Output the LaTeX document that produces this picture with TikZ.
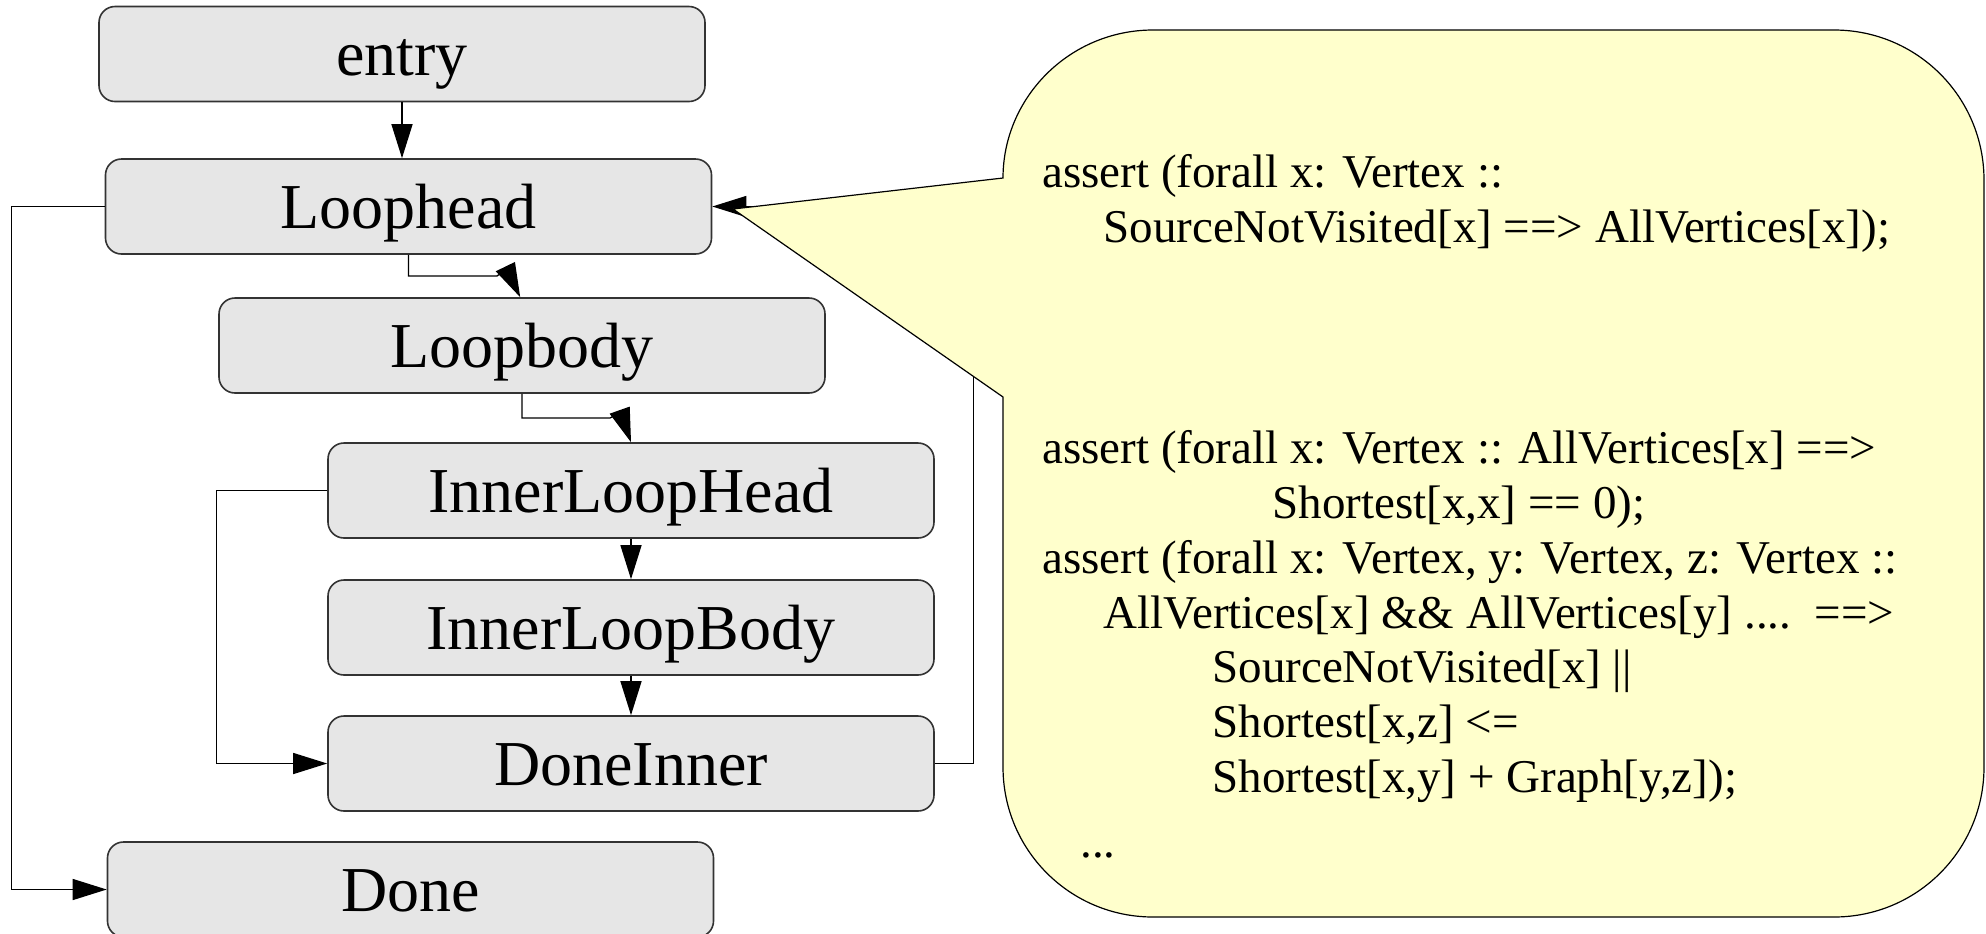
\documentclass[tikz,border=0pt]{standalone}
\usepackage{fontspec}
\setmainfont{Liberation Serif}
\usetikzlibrary{arrows.meta,calc}
\definecolor{notefill}{HTML}{FFFFCC}
\definecolor{boxfill}{HTML}{E6E6E6}
\begin{document}
\begin{tikzpicture}[x=0.5pt,y=-0.5pt,
  blk/.style={draw=black!80, line width=0.8pt, fill=boxfill, rounded corners=8pt,
    minimum width=303pt, minimum height=47.5pt, inner sep=0pt,
    text height=27pt, text depth=5.5pt,
    font=\fontsize{32}{38}\selectfont},
  conn/.style={draw=black, line width=0.65pt, -{Triangle[length=17pt,width=10.5pt]}},
  callout/.style={draw=black, line width=0.6pt, fill=notefill},
  code/.style={anchor=base west, inner sep=0pt, font=\fontsize{23.5}{27.5}\selectfont}]
\useasboundingbox (0,0) rectangle (1986,933);

% blocks
\node[blk] (entry) at (402,54) {entry};
\node[blk] (head) at (408.5,206.5) {Loophead};
\node[blk] (body) at (522,345.5) {Loopbody};
\node[blk] (ihead) at (631,490.5) {InnerLoopHead};
\node[blk] (ibody) at (631,627.5) {InnerLoopBody};
\node[blk] (idone) at (631,763.5) {DoneInner};
\node[blk] (done) at (410.5,889.5) {Done};

% connectors
\draw[conn] (entry.south) -- (entry.south |- head.north);
\draw[conn] (head.south) |- (497,276) -- (506.5,269) -- ($(body.north west)+(302,0)$);
\draw[conn] (body.south) |- (610,418) -- (620.5,412.5) -- (ihead.north);
\draw[conn] (ihead.south) -- (ibody.north);
\draw[conn] (ibody.south) -- (idone.north);
\draw[conn] (ihead.west) -- ++(-111,0) |- (idone.west);
\draw[conn] (head.west) -- ++(-93.5,0) |- (done.west);
\draw[conn] (idone.east) -- ++(39,0) |- (head.east);

% callout
\filldraw[callout] (1003,178) -- (733,209) -- (1003,397) -- (1003,767)
  .. controls (1003,850) and (1070,917) .. (1153,917) -- (1834,917)
  .. controls (1917,917) and (1984,850) .. (1984,767) -- (1984,180)
  .. controls (1984,97) and (1917,30) .. (1834,30) -- (1153,30)
  .. controls (1070,30) and (1003,97) .. (1003,178) -- cycle;

\node[code] (a1) at (1042,187) {assert (forall x: Vertex ::};
\node[code] (a2) at (1103,242) {SourceNotVisited[x] ==> AllVertices[x]);};
\node[code] (b1) at (1042,463) {assert (forall x: Vertex :: AllVertices[x] ==>};
\node[code] (b2) at (1272,518) {Shortest[x,x] == 0);};
\node[code] (c1) at (1042,573) {assert (forall x: Vertex, y: Vertex, z: Vertex ::};
\node[code] (c2) at (1103,628) {AllVertices[x] \&\& AllVertices[y] ....\ \ ==>};
\node[code] (c3) at (1212,682) {SourceNotVisited[x] ||};
\node[code] (c4) at (1212,737) {Shortest[x,z] <=};
\node[code] (c5) at (1212,792) {Shortest[x,y] + Graph[y,z]);};
\node[code] (c6) at (1080,857) {...};
\end{tikzpicture}
\end{document}
